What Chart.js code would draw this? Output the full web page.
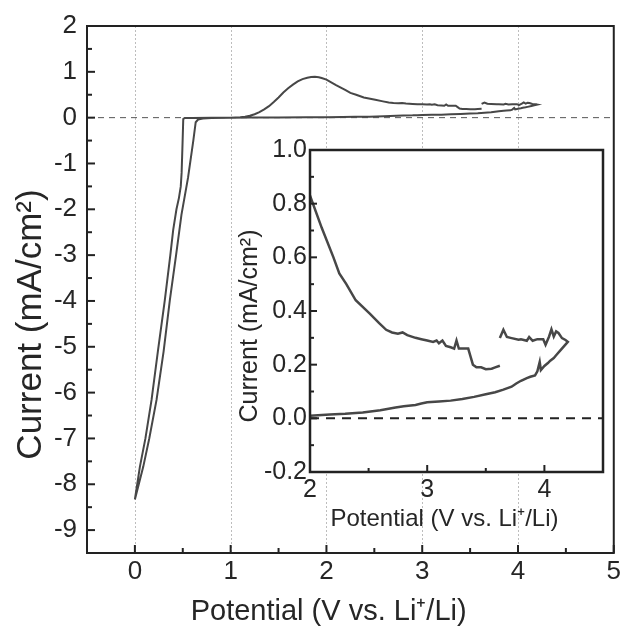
<!DOCTYPE html>
<html>
<head>
<meta charset="utf-8">
<script src="https://cdn.jsdelivr.net/npm/chart.js@4.4.1/dist/chart.umd.min.js"></script>
<style>
html,body{margin:0;padding:0;background:#fff;}
#wrap{position:relative;width:624px;height:632px;overflow:hidden;}
canvas{position:absolute;left:0;top:0;}
</style>
</head>
<body>
<div id="wrap">
<canvas id="main" width="624" height="632"></canvas>
<canvas id="inset" width="624" height="632"></canvas>
</div>
<script>
// ---- data: one CV cycle, in drawing order (V vs Li+/Li, mA/cm2) ----
const potentialV = [
  3.62,3.65,3.68,3.72,3.78,3.80,3.85,3.87,3.90,3.94,3.99,4.01,4.04,4.06,4.08,4.10,4.12,4.15,4.18,4.20,
  4.17,4.14,4.10,4.08,4.05,4.03,4.00,3.97,3.96,3.94,3.92,3.88,3.85,3.80,3.76,3.72,3.65,3.58,3.50,3.40,
  3.30,3.20,3.10,3.00,2.95,2.90,2.80,2.73,2.60,2.45,2.30,2.17,2.00,1.80,1.50,1.20,1.00,0.80,0.60,0.52,
  0.505,0.497,0.488,0.479,0.460,0.434,0.400,0.370,0.3125,0.240,0.174,0.110,0.052,0.000,
  0.087,0.150,0.226,0.300,0.365,0.430,0.486,0.555,0.610,0.635,0.660,0.710,0.800,1.000,
  1.10,1.15,1.20,1.25,1.30,1.35,1.40,1.45,1.50,1.55,1.60,1.65,1.70,1.75,1.80,1.84,1.88,1.92,1.95,2.00,
  2.10,2.20,2.25,2.31,2.39,2.51,2.59,2.65,2.70,
  2.75,2.79,2.83,2.90,2.95,3.00,3.05,3.08,3.10,3.13,3.16,3.20,3.23,3.25,3.27,3.30,3.35,3.37,3.39,3.42,
  3.46,3.50,3.55,3.58,3.62
];
const currentMA = [
  0.299,0.330,0.303,0.299,0.293,0.295,0.289,0.303,0.289,0.295,0.295,0.274,0.305,0.332,0.305,0.324,0.318,0.299,0.292,0.285,
  0.270,0.255,0.235,0.225,0.215,0.206,0.195,0.180,0.210,0.175,0.160,0.155,0.150,0.140,0.130,0.118,0.107,0.097,0.090,0.080,
  0.072,0.066,0.063,0.060,0.055,0.050,0.045,0.040,0.030,0.022,0.017,0.014,0.010,0.007,0.004,0.002,0.000,-0.003,-0.005,-0.010,
  -0.03,-0.60,-1.20,-1.50,-1.75,-2.00,-2.45,-3.00,-3.98,-5.10,-6.16,-7.00,-7.62,-8.33,
  -7.62,-7.00,-6.16,-5.10,-3.98,-3.00,-2.12,-1.31,-0.50,-0.10,-0.04,-0.02,-0.01,0.000,
  0.010,0.020,0.040,0.075,0.120,0.180,0.250,0.340,0.440,0.550,0.640,0.720,0.790,0.840,0.870,0.885,0.890,0.882,0.865,0.830,
  0.710,0.600,0.540,0.500,0.440,0.390,0.355,0.330,0.320,
  0.315,0.320,0.310,0.300,0.295,0.290,0.285,0.290,0.280,0.290,0.270,0.265,0.260,0.290,0.260,0.260,0.260,0.230,0.200,0.190,
  0.190,0.183,0.185,0.190,0.196
];
const mainXTicks = [0,1,2,3,4,5];
const mainYTicks = [2,1,0,-1,-2,-3,-4,-5,-6,-7,-8,-9];
const insetXTicks = [2,3,4];
const insetYTicks = [-0.2,0,0.2,0.4,0.6,0.8,1.0];

const cvPoints = potentialV.map((v,i)=>({x:v,y:currentMA[i]}));
const FONT = "'Liberation Sans', Arial, Helvetica, sans-serif";
const TXT = '#262626';
const EN = '\u2002', THIN = '\u2009';

// decoration plugin: frame, dotted grid, inward ticks
const decor = {
  id:'decor',
  beforeDraw(chart, args, o){
    if (!o.fill) return;
    const ctx = chart.ctx, a = chart.chartArea;
    ctx.save(); ctx.fillStyle = '#fff';
    ctx.fillRect(a.left, a.top, a.right-a.left, a.bottom-a.top);
    ctx.restore();
  },
  beforeDatasetsDraw(chart, args, o){
    const ctx = chart.ctx, a = chart.chartArea, xs = chart.scales.x;
    if (!o.gridX) return;
    ctx.save();
    ctx.strokeStyle = '#bdbdbd'; ctx.lineWidth = 1; ctx.setLineDash([2,2]);
    o.gridX.forEach(v=>{
      const px = Math.round(xs.getPixelForValue(v))+0.5;
      ctx.beginPath(); ctx.moveTo(px, a.top); ctx.lineTo(px, a.bottom); ctx.stroke();
    });
    ctx.restore();
  },
  afterDraw(chart, args, o){
    const ctx = chart.ctx, a = chart.chartArea, xs = chart.scales.x, ys = chart.scales.y;
    ctx.save();
    ctx.strokeStyle = '#222'; ctx.lineWidth = o.tickWidth; ctx.setLineDash([]);
    const vt = (v,len)=>{const p=xs.getPixelForValue(v); ctx.beginPath(); ctx.moveTo(p,a.bottom); ctx.lineTo(p,a.bottom-len); ctx.stroke();};
    const ht = (v,len)=>{const p=ys.getPixelForValue(v); ctx.beginPath(); ctx.moveTo(a.left,p); ctx.lineTo(a.left+len,p); ctx.stroke();};
    o.xMajor.forEach(v=>vt(v,o.major)); o.xMinor.forEach(v=>vt(v,o.minor));
    o.yMajor.forEach(v=>ht(v,o.major)); o.yMinor.forEach(v=>ht(v,o.minor));
    ctx.lineWidth = o.frame; ctx.strokeStyle = '#222';
    ctx.strokeRect(a.left, a.top, a.right-a.left, a.bottom-a.top);
    ctx.restore();
  }
};

const mainYMinor = []; for (let i=0;i<mainYTicks.length-1;i++) mainYMinor.push((mainYTicks[i]+mainYTicks[i+1])/2);
const mainXMinor = []; for (let i=0;i<mainXTicks.length-1;i++) mainXMinor.push((mainXTicks[i]+mainXTicks[i+1])/2);

new Chart(document.getElementById('main'), {
  type:'scatter',
  data:{datasets:[
    {data:cvPoints, showLine:true, borderColor:'#474747', borderWidth:2, pointRadius:0, tension:0, order:1},
    {data:[{x:-0.5,y:0},{x:5,y:0}], showLine:true, borderColor:'#555', borderWidth:1, borderDash:[6,5], pointRadius:0, order:2}
  ]},
  options:{
    responsive:false, animation:false, devicePixelRatio:1,
    layout:{padding:{top:26,right:10,left:0,bottom:0}},
    plugins:{legend:{display:false}, tooltip:{enabled:false},
      decor:{gridX:[0,1,2,3,4], xMajor:mainXTicks, xMinor:mainXMinor, yMajor:mainYTicks, yMinor:mainYMinor, major:8, minor:5, tickWidth:2, frame:2}},
    scales:{
      x:{type:'linear', min:-0.5, max:5,
        afterBuildTicks:s=>{s.ticks = mainXTicks.map(v=>({value:v}));},
        afterFit:s=>{s.height = 79;},
        grid:{display:false, drawTicks:false}, border:{display:false},
        ticks:{color:TXT, font:{family:FONT, size:26}, padding:3, maxRotation:0, autoSkip:false, callback:v=>String(v)},
        title:{display:true, text:'Potential (V vs. Li\u207A/Li)'+EN+EN+EN, color:TXT, font:{family:FONT, size:29}, padding:{top:0,bottom:3}}
      },
      y:{type:'linear', min:-9.5, max:2,
        afterBuildTicks:s=>{s.ticks = mainYTicks.map(v=>({value:v}));},
        afterFit:s=>{s.width = 87;},
        grid:{display:false, drawTicks:false}, border:{display:false},
        ticks:{color:TXT, font:{family:FONT, size:26}, padding:10, autoSkip:false, callback:v=>String(v)},
        title:{display:true, text:'Current (mA/cm\u00B2)'+EN+EN+EN+EN, color:TXT, font:{family:FONT, size:35}, padding:{top:10,bottom:0}}
      }
    }
  },
  plugins:[decor]
});

const insetXMinor = [2.5,3.5];
const insetYMinor = [-0.1,0.1,0.3,0.5,0.7,0.9];
new Chart(document.getElementById('inset'), {
  type:'scatter',
  data:{datasets:[
    {data:cvPoints, showLine:true, borderColor:'#474747', borderWidth:2.5, pointRadius:0, tension:0, order:1},
    {data:[{x:2,y:0},{x:4.5,y:0}], showLine:true, borderColor:'#222', borderWidth:2, borderDash:[9,7], pointRadius:0, order:2}
  ]},
  options:{
    responsive:false, animation:false, devicePixelRatio:1,
    layout:{padding:{top:150,right:21,left:230,bottom:95}},
    plugins:{legend:{display:false}, tooltip:{enabled:false},
      decor:{fill:true, xMajor:insetXTicks, xMinor:insetXMinor, yMajor:insetYTicks, yMinor:insetYMinor, major:7, minor:4, tickWidth:2, frame:2.5}},
    scales:{
      x:{type:'linear', min:2, max:4.5,
        afterBuildTicks:s=>{s.ticks = insetXTicks.map(v=>({value:v}));},
        afterFit:s=>{s.height = 65;},
        grid:{display:false, drawTicks:false}, border:{display:false},
        ticks:{color:TXT, font:{family:FONT, size:25}, padding:3, maxRotation:0, autoSkip:false, callback:v=>String(v)},
        title:{display:true, text:'Potential (V vs. Li\u207A/Li)'+EN+EN, color:TXT, font:{family:FONT, size:24}, padding:{top:0,bottom:3}}
      },
      y:{type:'linear', min:-0.2, max:1.0,
        afterBuildTicks:s=>{s.ticks = insetYTicks.map(v=>({value:v}));},
        afterFit:s=>{s.width = 80;},
        grid:{display:false, drawTicks:false}, border:{display:false},
        ticks:{color:TXT, font:{family:FONT, size:25}, padding:3, autoSkip:false, callback:v=>Number(v).toFixed(1)},
        title:{display:true, text:'Current (mA/cm\u00B2)'+EN+EN+THIN, color:TXT, font:{family:FONT, size:25}, padding:{top:5,bottom:0}}
      }
    }
  },
  plugins:[decor]
});
</script>
</body>
</html>
